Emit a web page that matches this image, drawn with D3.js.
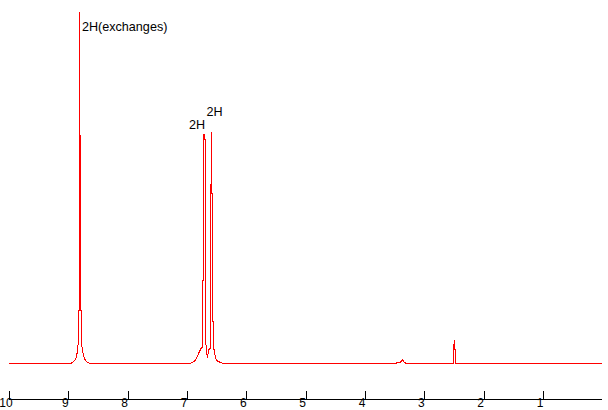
<!DOCTYPE html>
<html><head><meta charset="utf-8">
<script src="https://cdn.jsdelivr.net/npm/d3@7"></script>
<style>html,body{margin:0;padding:0;background:#fff;overflow:hidden}svg{display:block}</style>
</head><body><svg id="c" width="608" height="410"></svg>
<script>
const ppmValues = [10.008,8.963,8.930,8.879,8.862,8.845,8.829,8.829,8.812,8.812,8.812,8.795,8.795,8.778,8.778,8.761,8.744,8.727,8.711,8.677,8.626,
 6.941,6.857,6.806,6.789,6.755,6.739,6.739,6.722,6.722,6.705,6.705,6.688,6.688,6.671,6.654,6.637,6.620,6.603,6.603,6.587,6.587,6.570,6.570,6.553,6.553,6.536,6.502,6.435,6.385,
 3.486,3.469,3.401,3.367,3.350,3.316,3.299,
 2.525,2.508,2.508,2.491,2.491,2.474,2.474,2.457,0];
const intensities = [0,0,1,4,7,13,24,53,53,352,228,228,53,53,21,13,8,5,3,1,0,
 0,3,10,12,16,16,83,83,229,229,224,224,26,11,6,13,15,15,127,231,170,170,42,42,18,10,3,1,0,
 0,0.5,1.5,4,2,0.5,0,
 0,0,19,19,23,5,0,0,0];
const tickValues = [10,9,8,7,6,5,4,3,2,1];
const peakLabels = ["2H(exchanges)","2H","2H"];
const labelPpm = [8.77,6.966,6.671];
const labelHeight = [333,234.5,247.5];

const svg = d3.select("#c");
const x = d3.scaleLinear().domain([10,0]).range([9,602.3]);
const y = d3.scaleLinear().domain([0,352]).range([363.5,11.5]);

const line = d3.line().x((d,i)=>x(ppmValues[i])).y(d=>y(d));
svg.append("path").datum(intensities).attr("d",line)
  .attr("fill","none").attr("stroke","#f00").attr("stroke-width",1)
  .attr("shape-rendering","crispEdges");

const axis = d3.axisTop(x).tickValues(tickValues).tickSize(9).tickPadding(0).tickFormat("");
const gA = svg.append("g").attr("transform","translate(0,399.5)").call(axis);
gA.select(".domain").attr("stroke","#000").attr("d",`M${x(10)},0H${x(0)}`).attr("shape-rendering","crispEdges");
gA.selectAll(".tick line").attr("stroke","#000").attr("shape-rendering","crispEdges");

svg.selectAll("text.tl").data(tickValues).join("text").attr("class","tl")
  .attr("x",d=>x(d)-3).attr("y",407.4).attr("text-anchor","middle")
  .style("font","12px 'Liberation Sans',Arial,sans-serif").attr("fill","#000")
  .text(d=>d);

svg.selectAll("text.pl").data(peakLabels).join("text").attr("class","pl")
  .attr("x",(d,i)=>x(labelPpm[i])).attr("y",(d,i)=>y(labelHeight[i]))
  .style("font","12.6px 'Liberation Sans',Arial,sans-serif").attr("fill","#000")
  .text(d=>d);
</script></body></html>
